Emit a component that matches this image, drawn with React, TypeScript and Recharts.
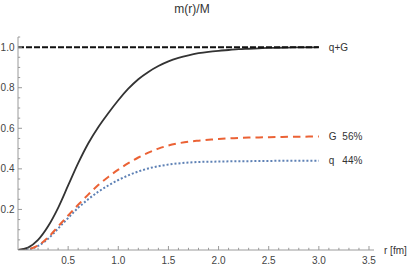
import React from 'react';
import { LineChart, Line, XAxis, YAxis, LabelList } from 'recharts';

const rValues = [0, 0.1, 0.2, 0.3, 0.4, 0.5, 0.6, 0.7, 0.8, 0.9, 1.0, 1.1, 1.2, 1.3, 1.4, 1.5, 1.6, 1.7, 1.8, 1.9, 2.0, 2.1, 2.2, 2.3, 2.4, 2.5, 2.6, 2.7, 2.8, 2.9, 3.0];
const sumValues = [0, 0.012, 0.05, 0.117, 0.208, 0.318, 0.428, 0.525, 0.605, 0.674, 0.738, 0.795, 0.842, 0.878, 0.907, 0.93, 0.947, 0.96, 0.97, 0.977, 0.982, 0.986, 0.99, 0.992, 0.994, 0.996, 0.997, 0.998, 0.999, 0.999, 1.0];
const gluonValues = [0, 0.004, 0.022, 0.062, 0.116, 0.17, 0.223, 0.273, 0.32, 0.36, 0.396, 0.428, 0.456, 0.48, 0.5, 0.515, 0.526, 0.534, 0.539, 0.543, 0.547, 0.55, 0.552, 0.554, 0.555, 0.556, 0.557, 0.558, 0.558, 0.559, 0.559];
const quarkValues = [0, 0.003, 0.02, 0.055, 0.106, 0.158, 0.208, 0.25, 0.287, 0.318, 0.345, 0.368, 0.387, 0.402, 0.413, 0.421, 0.427, 0.431, 0.434, 0.435, 0.436, 0.437, 0.438, 0.438, 0.439, 0.439, 0.44, 0.44, 0.44, 0.44, 0.44];
const totalValues = [1, 1, 1, 1, 1, 1, 1, 1, 1, 1, 1, 1, 1, 1, 1, 1, 1, 1, 1, 1, 1, 1, 1, 1, 1, 1, 1, 1, 1, 1, 1];

const xTicks = [0, 0.1, 0.2, 0.3, 0.4, 0.5, 0.6, 0.7, 0.8, 0.9, 1.0, 1.1, 1.2, 1.3, 1.4, 1.5, 1.6, 1.7, 1.8, 1.9, 2.0, 2.1, 2.2, 2.3, 2.4, 2.5, 2.6, 2.7, 2.8, 2.9, 3.0, 3.1, 3.2, 3.3, 3.4, 3.5];
const xMajorLabels = ['0.5', '1.0', '1.5', '2.0', '2.5', '3.0', '3.5'];
const yTicks = [0.05, 0.1, 0.15, 0.2, 0.25, 0.3, 0.35, 0.4, 0.45, 0.5, 0.55, 0.6, 0.65, 0.7, 0.75, 0.8, 0.85, 0.9, 0.95, 1.0, 1.05];
const yMajorLabels = ['0.2', '0.4', '0.6', '0.8', '1.0'];

const seriesNames = { total: 'q+G', gluon: 'G', quark: 'q' };
const seriesShares = { gluon: '56%', quark: '44%' };

const data = rValues.map((r, i) => ({
  r,
  sum: sumValues[i],
  gluon: gluonValues[i],
  quark: quarkValues[i],
  total: totalValues[i],
}));

const FONT = '"Liberation Sans", Arial, sans-serif';
const AXIS = '#9a9a9a';

const XTick = (props: any) => {
  const { x, y, payload } = props;
  const v: number = payload.value;
  const label = v.toFixed(1);
  const major = xMajorLabels.includes(label);
  if (v === 0) return <g />;
  return (
    <g>
      <line x1={x} y1={y} x2={x} y2={y - (major ? 4 : 2.2)} stroke={AXIS} strokeWidth={1} />
      {major && (
        <text x={x} y={y + 13.6} textAnchor="middle" fontSize={10} fill="#444" fontFamily={FONT}>
          {label}
        </text>
      )}
    </g>
  );
};

const YTick = (props: any) => {
  const { x, y, payload } = props;
  const v: number = payload.value;
  const label = v.toFixed(1);
  const major = Math.abs(v * 5 - Math.round(v * 5)) < 1e-6 && yMajorLabels.includes(label);
  return (
    <g>
      <line x1={x} y1={y} x2={x + (major ? 4 : 2.2)} y2={y} stroke={AXIS} strokeWidth={1} />
      {major && (
        <text x={x - 3.5} y={y + 3.6} textAnchor="end" fontSize={10} fill="#444" fontFamily={FONT}>
          {label}
        </text>
      )}
    </g>
  );
};

const lastIndex = rValues.length - 1;

const endLabel = (name: string, share?: string) => (props: any) => {
  const { x, y, index } = props;
  if (index !== lastIndex) return <g />;
  return (
    <text x={x + 10} y={y + 3.6} fontSize={10} fill="#333" fontFamily={FONT}>
      <tspan>{name}</tspan>
      {share && <tspan x={x + 23.5}>{share}</tspan>}
    </text>
  );
};

const XAxisLabel = (props: any) => {
  const { viewBox } = props;
  return (
    <text x={viewBox.x + viewBox.width + 10} y={viewBox.y + 4} fontSize={10} fill="#333" fontFamily={FONT}>
      r [fm]
    </text>
  );
};

export default function App() {
  return (
    <div style={{ position: 'absolute', left: 0, top: 0, width: 407, height: 268 }}>
      <div
        style={{
          position: 'absolute',
          left: 0,
          top: 3,
          width: 384,
          textAlign: 'center',
          fontSize: 12,
          lineHeight: '12px',
          fontFamily: FONT,
          color: '#333',
        }}
      >
        m(r)/M
      </div>
      <LineChart width={407} height={268} data={data} margin={{ top: 37, left: 17, right: 33, bottom: 17 }}>
        <XAxis
          dataKey="r"
          type="number"
          domain={[0, 3.55]}
          ticks={xTicks}
          interval={0}
          tickSize={0}
          tickMargin={0}
          height={1}
          tick={XTick}
          tickLine={false}
          axisLine={{ stroke: AXIS, strokeWidth: 1 }}
          allowDataOverflow
          label={XAxisLabel}
        />
        <YAxis
          type="number"
          domain={[0, 1.05]}
          ticks={yTicks}
          interval={0}
          tickSize={0}
          tickMargin={0}
          width={1}
          tick={YTick}
          tickLine={false}
          axisLine={{ stroke: AXIS, strokeWidth: 1 }}
          allowDataOverflow
        />
        <Line
          dataKey="quark"
          type="monotone"
          stroke="#5E81B5"
          strokeWidth={2}
          strokeDasharray="2 2"
          dot={false}
          activeDot={false}
          isAnimationActive={false}
        >
          <LabelList dataKey="quark" content={endLabel(seriesNames.quark, seriesShares.quark)} />
        </Line>
        <Line
          dataKey="gluon"
          type="monotone"
          stroke="#EB6235"
          strokeWidth={2}
          strokeDasharray="7.5 5"
          dot={false}
          activeDot={false}
          isAnimationActive={false}
        >
          <LabelList dataKey="gluon" content={endLabel(seriesNames.gluon, seriesShares.gluon)} />
        </Line>
        <Line
          dataKey="sum"
          type="monotone"
          stroke="#333"
          strokeWidth={1.8}
          dot={false}
          activeDot={false}
          isAnimationActive={false}
        />
        <Line
          dataKey="total"
          type="monotone"
          stroke="#111"
          strokeWidth={2}
          strokeDasharray="6 2"
          dot={false}
          activeDot={false}
          isAnimationActive={false}
        >
          <LabelList dataKey="total" content={endLabel(seriesNames.total)} />
        </Line>
      </LineChart>
    </div>
  );
}
